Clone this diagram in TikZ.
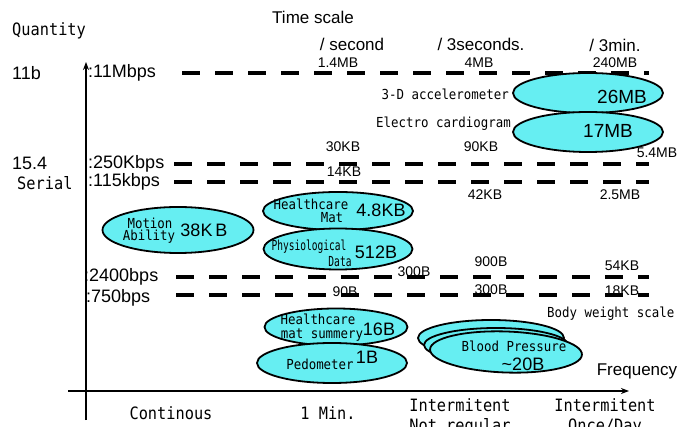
\documentclass[tikz,border=0pt]{standalone}
\usepackage{fontspec}
\usepackage{graphicx}
\setmainfont{Liberation Sans}
\newfontfamily\gothic[FakeStretch=0.9]{DejaVu Sans Mono}
\usetikzlibrary{arrows.meta,shapes.geometric}
\definecolor{blobfill}{RGB}{102,238,242}
\tikzset{
  blob/.style={ellipse, draw=black, line width=1.8pt, fill=blobfill, inner sep=0},
  dashline/.style={line width=4.5pt, dash pattern=on 18pt off 15pt},
  axis/.style={line width=1.8pt, -{Stealth[length=8pt,width=6pt]}},
  lbl/.style={font=\fontsize{18}{21}\selectfont, inner sep=0},
  hdr/.style={font=\fontsize{17}{20}\selectfont, inner sep=0},
  num/.style={font=\fontsize{14}{16}\selectfont, inner sep=0},
  big/.style={font=\fontsize{18}{21}\selectfont, inner sep=0},
  goth/.style={font=\gothic\fontsize{13.8}{14}\selectfont, inner sep=0},
  gothbig/.style={font=\gothic\fontsize{17}{20}\selectfont, inner sep=0, align=center},
}
\begin{document}
\begin{tikzpicture}[x=1pt,y=-1pt]
\useasboundingbox (0,0) rectangle (688,427);

% axes
\coordinate (ybot) at (86,420);
\coordinate (ytop) at (86,62);
\coordinate (xleft) at (68,391);
\coordinate (xright) at (629,391);
\draw[axis] (ybot) -- (ytop);
\draw[axis] (xleft) -- (xright);

% bandwidth levels
\coordinate (d1s) at (182,73);  \coordinate (d1e) at (649,73);
\coordinate (d2s) at (174,164); \coordinate (d2e) at (649,164);
\coordinate (d3s) at (174,182); \coordinate (d3e) at (649,182);
\coordinate (d4s) at (176,277); \coordinate (d4e) at (649,277);
\coordinate (d5s) at (176,295); \coordinate (d5e) at (649,295);
\foreach \i in {1,...,5} \draw[dashline] (d\i s) -- (d\i e);

% axis titles
\node[gothbig, anchor=west] (qty) at (12,31) {Quantity};
\node[hdr] (tscale) at (313,17) {Time scale};
\node[hdr] (freq) at (637,371) {Frequency};

% left side labels
\node[lbl, anchor=west] (l11b) at (12,73) {11b};
\node[lbl, anchor=west] (l154) at (12,163) {15.4};
\node[gothbig, anchor=west] (lser) at (17,183) {Serial};
\node[lbl, anchor=west] (r1) at (88,73) {:11Mbps};
\node[lbl, anchor=west] (r2) at (88,164) {:250Kbps};
\node[lbl, anchor=west] (r3) at (88,182) {:115kbps};
\node[lbl, anchor=west] (r4) at (84,277) {:2400bps};
\node[lbl, anchor=west] (r5) at (86,298) {:750bps};

% time scale header
\node[hdr] (hsec) at (352,44) {/ second};
\node[hdr] (h3s) at (481,44) {/ 3seconds.};
\node[hdr] (h3m) at (615,45) {/ 3min.};
\node[num] (n1) at (338,63) {1.4MB};
\node[num] (n2) at (479,63) {4MB};
\node[num] (n3) at (615,63) {240MB};

% data volumes between levels
\node[num] (n4) at (343,147) {30KB};
\node[num] (n5) at (344,172) {14KB};
\node[num] (n6) at (481,147) {90KB};
\node[num] (n7) at (657,153) {5.4MB};
\node[num] (n8) at (485,195) {42KB};
\node[num] (n9) at (620,195) {2.5MB};
\node[num] (n10) at (414,272) {300B};
\node[num] (n11) at (345,292) {90B};
\node[num] (n12) at (491,262) {900B};
\node[num] (n13) at (491,290) {300B};
\node[num] (n14) at (622,266) {54KB};
\node[num] (n15) at (622,291) {18KB};

% sensors
\node[blob, minimum width=150pt, minimum height=40pt] (acc) at (588,93) {};
\node[blob, minimum width=150pt, minimum height=40pt] (ecg) at (588,132) {};
\node[big, font=\fontsize{19}{22}\selectfont] (acct) at (622,97) {26MB};
\node[big, font=\fontsize{19}{22}\selectfont] (ecgt) at (608,131) {17MB};
\node[goth, anchor=east] (accl) at (509,94) {3-D accelerometer};
\node[goth, anchor=east] (ecgl) at (511,124) {Electro cardiogram};

\node[blob, minimum width=151pt, minimum height=46pt] (mot) at (178,230) {};
\node[goth] (mot1) at (150,223) {Motion};
\node[goth] (mot2) at (149,237) {Ability};
\node[big] (mott) at (204,230) {38K\hspace{3pt}B};

\node[blob, minimum width=150pt, minimum height=38pt] (hmat) at (338,211) {};
\node[blob, minimum width=149pt, minimum height=41pt] (phys) at (338,249) {};
\node[goth] (hmat1) at (311,204) {Healthcare};
\node[goth] (hmat2) at (332,218) {Mat};
\node[big] (hmatt) at (381,210) {4.8KB};
\node[goth] (phys1) at (309,247) {\scalebox{0.77}[1]{Physiological}};
\node[goth] (phys2) at (340,262) {\scalebox{0.77}[1]{Data}};
\node[big] (physt) at (376,252) {512B};

\node[blob, minimum width=143pt, minimum height=37pt] (hsum) at (336,327) {};
\node[blob, minimum width=150pt, minimum height=40pt] (pedo) at (332,363) {};
\node[goth] (hsum1) at (318,319) {Healthcare};
\node[goth] (hsum2) at (322,335) {mat summery};
\node[big] (hsumt) at (379,329) {16B};
\node[goth] (pedo1) at (320,364) {Pedometer};
\node[big] (pedot) at (367,357) {1B};

\node[blob, minimum width=146pt, minimum height=36pt] (bp1) at (491,338) {};
\node[blob, minimum width=144pt, minimum height=34pt] (bp2) at (496,345) {};
\node[blob, minimum width=152pt, minimum height=41pt, rotate=-2] (bp3) at (506,352) {};
\node[goth] (bpl) at (514,346) {Blood Pressure};
\node[big] (bpt) at (523,364) {\textasciitilde 20B};

\node[goth, anchor=west] (bws) at (547,314) {Body weight scale};

% frequency categories
\node[gothbig] (c1) at (171,413) {Continous};
\node[gothbig] (c2) at (328,413) {1 Min.};
\node[gothbig] (c3) at (460,417) {Intermitent\\Not regular};
\node[gothbig] (c4) at (605,417) {Intermitent\\Once/Day};
\end{tikzpicture}
\end{document}
